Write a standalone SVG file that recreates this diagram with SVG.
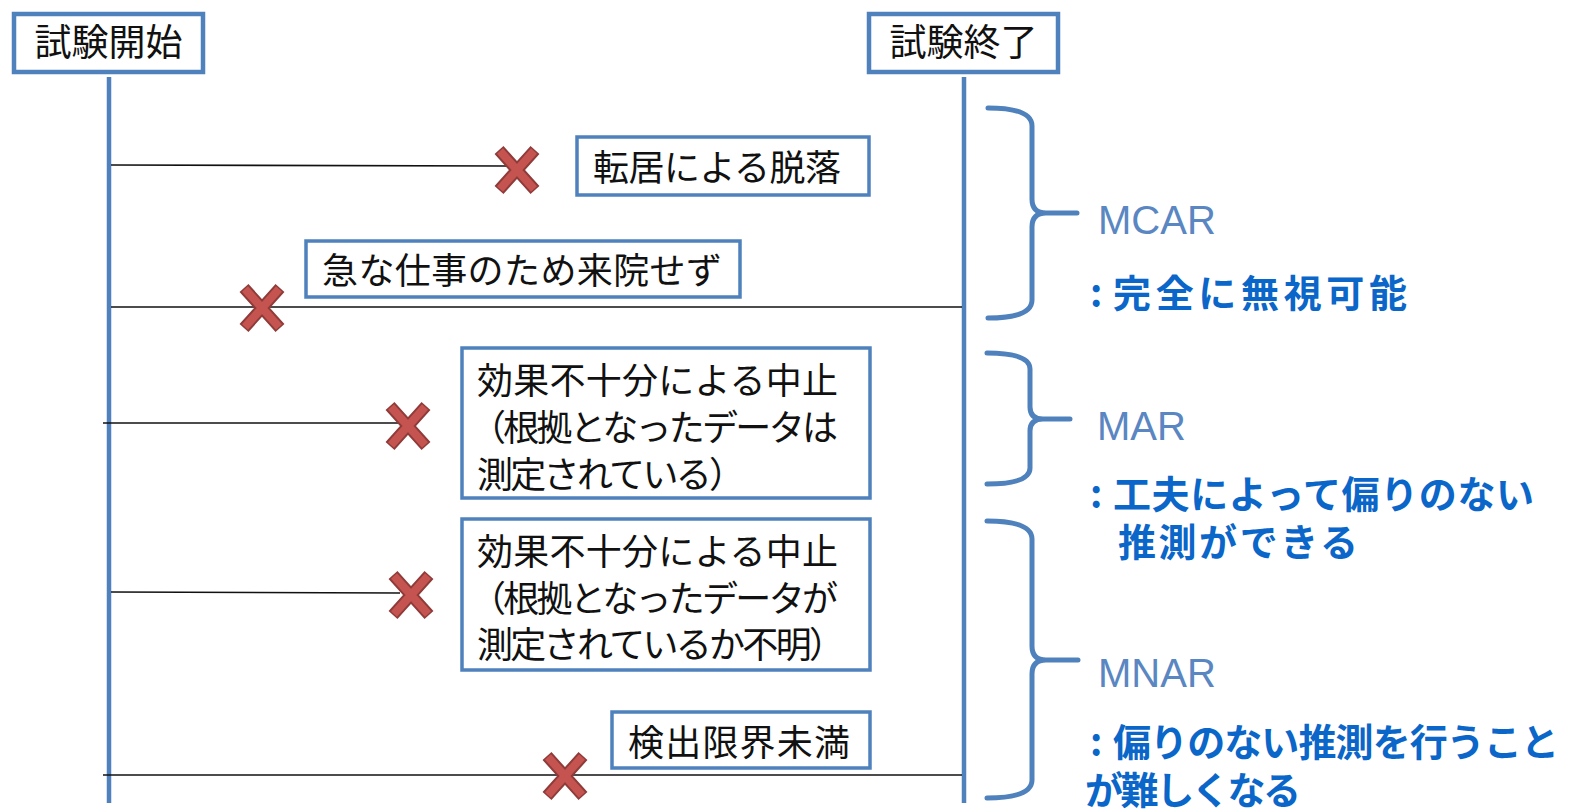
<svg xmlns="http://www.w3.org/2000/svg" xmlns:xlink="http://www.w3.org/1999/xlink" width="1569" height="809" viewBox="0 0 1569 809">
<style>
.box{fill:#fff;stroke:#4F81BD;stroke-width:3.5}
.tbox{fill:#fff;stroke:#4F81BD;stroke-width:4.5}
.txt{font-family:"Noto Sans CJK JP","Noto Sans",sans-serif;font-size:36px;fill:#111}
.ttl{font-family:"Noto Sans CJK JP","Noto Sans",sans-serif;font-size:37px;fill:#111;text-anchor:middle}
.tl{stroke:#4F81BD;stroke-width:4.5;fill:none}
.ln{stroke:#111;stroke-width:1.6;fill:none}
.brace{stroke:#4F81BD;stroke-width:5;fill:none;stroke-linecap:round;stroke-linejoin:round}
.cat{font-family:"Liberation Sans","Noto Sans",sans-serif;font-size:40px;fill:#5A86C2}
.desc{font-family:"Noto Sans CJK JP","Noto Sans",sans-serif;font-size:38px;font-weight:bold;fill:#0A66C8}
</style>
<defs>
<g id="xmark">
<path d="M-18,-20 L18,20 M18,-20 L-18,20" stroke="#8E3B39" stroke-width="12" fill="none"/>
<path d="M-17,-19 L17,19 M17,-19 L-17,19" stroke="#C55350" stroke-width="8" fill="none"/>
</g>
</defs>

<g id="timelines">
<line class="tl" x1="109" y1="77" x2="109" y2="803"/>
<line class="tl" x1="964" y1="77" x2="964" y2="803"/>
</g>

<g id="connectors">
<line class="ln" x1="111" y1="165" x2="506" y2="166"/>
<line class="ln" x1="111" y1="307" x2="962" y2="307"/>
<line class="ln" x1="103" y1="423" x2="398" y2="423"/>
<line class="ln" x1="111" y1="592" x2="400" y2="593"/>
<line class="ln" x1="103" y1="775" x2="962" y2="775"/>
</g>

<g id="marks">
<use xlink:href="#xmark" href="#xmark" x="517" y="170"/>
<use xlink:href="#xmark" href="#xmark" x="262" y="308"/>
<use xlink:href="#xmark" href="#xmark" x="408" y="426"/>
<use xlink:href="#xmark" href="#xmark" x="411" y="595"/>
<use xlink:href="#xmark" href="#xmark" x="565" y="776"/>
</g>

<g id="start">
<rect class="tbox" x="14" y="14" width="189" height="58"/>
<text class="ttl" x="108.5" y="56">試験開始</text>
</g>
<g id="end">
<rect class="tbox" x="869" y="14" width="189" height="58"/>
<text class="ttl" x="963.5" y="56">試験終了</text>
</g>

<g id="ev1">
<rect class="box" x="577" y="137" width="292" height="58"/>
<text class="txt" x="593" y="181" textLength="248">転居による脱落</text>
</g>
<g id="ev2">
<rect class="box" x="306" y="241" width="434" height="56"/>
<text class="txt" x="322" y="284" textLength="400">急な仕事のため来院せず</text>
</g>
<g id="ev3">
<rect class="box" x="462" y="348" width="408" height="150"/>
<text class="txt" x="477" y="394" textLength="361">効果不十分による中止</text>
<text class="txt" x="470" y="441" textLength="368">（根拠となったデータは</text>
<text class="txt" x="477" y="488" textLength="268">測定されている）</text>
</g>
<g id="ev4">
<rect class="box" x="462" y="519" width="408" height="151"/>
<text class="txt" x="477" y="565" textLength="361">効果不十分による中止</text>
<text class="txt" x="470" y="612" textLength="368">（根拠となったデータが</text>
<text class="txt" x="477" y="658" textLength="368">測定されているか不明）</text>
</g>
<g id="ev5">
<rect class="box" x="612" y="712" width="258" height="56"/>
<text class="txt" x="628" y="756" textLength="222">検出限界未満</text>
</g>

<g id="braces">
<path class="brace" d="M988,108 Q1032,108 1032,126 L1032,199 Q1032,213 1046,213 L1077,213 M1046,213 Q1032,213 1032,227 L1032,300 Q1032,318 988,318"/>
<path class="brace" d="M987,353 Q1030,353 1030,369 L1030,407 Q1030,419 1043,419 L1070,419 M1043,419 Q1030,419 1030,431 L1030,468 Q1030,484 987,484"/>
<path class="brace" d="M987,521 Q1032,521 1032,539 L1032,646 Q1032,660 1046,660 L1078,660 M1046,660 Q1032,660 1032,674 L1032,780 Q1032,798 987,798"/>
</g>

<g id="mcar">
<text class="cat" x="1098" y="234">MCAR</text>
<text class="desc" y="307"><tspan x="1090">:</tspan><tspan x="1113" textLength="294">完全に無視可能</tspan></text>
</g>
<g id="mar">
<text class="cat" x="1097" y="440">MAR</text>
<text class="desc" y="508"><tspan x="1090">:</tspan><tspan x="1113" textLength="421">工夫によって偏りのない</tspan></text>
<text class="desc" x="1118" y="556" textLength="240">推測ができる</text>
</g>
<g id="mnar">
<text class="cat" x="1098" y="687">MNAR</text>
<text class="desc" y="756"><tspan x="1090">:</tspan><tspan x="1113" textLength="446">偏りのない推測を行うこと</tspan></text>
<text class="desc" x="1085" y="804" textLength="216">が難しくなる</text>
</g>
</svg>
